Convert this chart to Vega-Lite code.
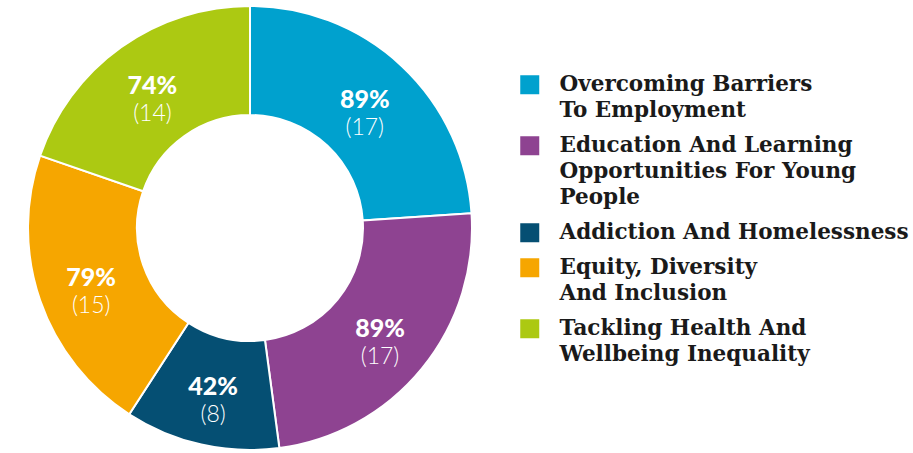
{
  "$schema": "https://vega.github.io/schema/vega-lite/v6.json",
  "width": 500,
  "height": 456,
  "padding": 0,
  "autosize": {"type": "pad"},
  "background": "white",
  "view": {"stroke": null},
  "config": {"style": {"guide-label": {"lineHeight": 26}}},
  "data": {
    "values": [
      {"category": "Overcoming Barriers\nTo Employment", "order": 1, "count": 17, "pct": "89%", "countLabel": "(17)"},
      {"category": "Education And Learning\nOpportunities For Young\nPeople", "order": 2, "count": 17, "pct": "89%", "countLabel": "(17)"},
      {"category": "Addiction And Homelessness", "order": 3, "count": 8, "pct": "42%", "countLabel": "(8)"},
      {"category": "Equity, Diversity\nAnd Inclusion", "order": 4, "count": 15, "pct": "79%", "countLabel": "(15)"},
      {"category": "Tackling Health And\nWellbeing Inequality", "order": 5, "count": 14, "pct": "74%", "countLabel": "(14)"}
    ]
  },
  "encoding": {
    "theta": {"field": "count", "type": "quantitative", "stack": true},
    "order": {"field": "order", "type": "quantitative"}
  },
  "layer": [
    {
      "mark": {"type": "arc", "outerRadius": 222, "innerRadius": 113, "stroke": "white", "strokeWidth": 2},
      "encoding": {
        "color": {
          "field": "category",
          "type": "nominal",
          "sort": {"field": "order"},
          "scale": {
            "domain": [
              "Overcoming Barriers\nTo Employment",
              "Education And Learning\nOpportunities For Young\nPeople",
              "Addiction And Homelessness",
              "Equity, Diversity\nAnd Inclusion",
              "Tackling Health And\nWellbeing Inequality"
            ],
            "range": ["#00a1ce", "#8e4391", "#054f73", "#f6a600", "#acc912"]
          },
          "legend": {
            "title": null,
            "orient": "none",
            "legendX": 519,
            "legendY": 74,
            "symbolType": "square",
            "symbolSize": 361,
            "symbolStrokeWidth": 0,
            "symbolOpacity": 1,
            "labelExpr": "split(datum.label, '\\n')",
            "labelFont": "DejaVu Serif",
            "labelFontWeight": "bold",
            "labelFontSize": 21.5,
            "labelColor": "#1a1a1a",
            "labelLimit": 500,
            "labelOffset": 19,
            "rowPadding": 12,
            "padding": 0
          }
        }
      }
    },
    {
      "mark": {"type": "text", "radius": 168, "dy": -5, "font": "Lato", "fontWeight": 900, "fontSize": 25, "fill": "white", "baseline": "middle", "align": "center"},
      "encoding": {"text": {"field": "pct", "type": "nominal"}}
    },
    {
      "mark": {"type": "text", "radius": 168, "dy": 23, "font": "Lato", "fontWeight": 300, "fontSize": 23, "fill": "white", "baseline": "middle", "align": "center"},
      "encoding": {"text": {"field": "countLabel", "type": "nominal"}}
    }
  ]
}
